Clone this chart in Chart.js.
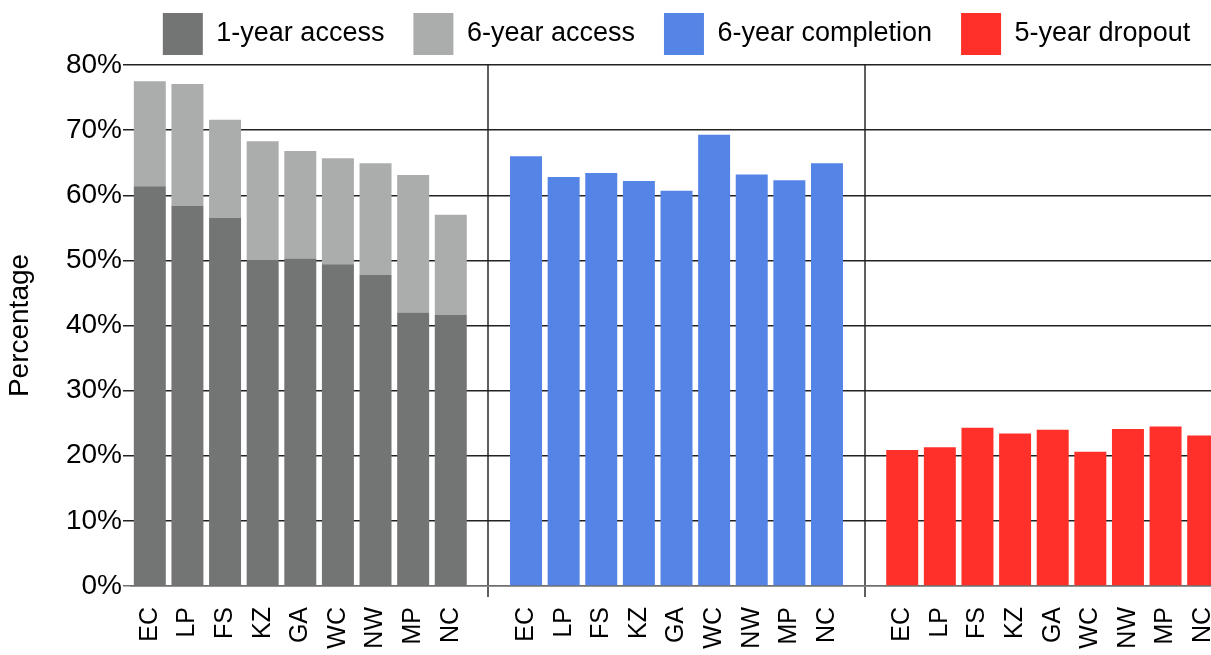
<!DOCTYPE html>
<html>
<head>
<meta charset="utf-8">
<script src="https://cdn.jsdelivr.net/npm/chart.js@4/dist/chart.umd.min.js"></script>
<style>
  html, body { margin: 0; padding: 0; background: #fff; }
  #wrap { width: 1211px; height: 655px; overflow: hidden; position: relative; }
  #chart { position: absolute; left: 0; top: 0; }
</style>
</head>
<body>
<div id="wrap"><canvas id="chart" width="1222" height="655"></canvas></div>
<script>
// regions, repeated once per panel
const regions = ['EC', 'LP', 'FS', 'KZ', 'GA', 'WC', 'NW', 'MP', 'NC']

// percentages
const oneYearAccess = [61.4, 58.4, 56.5, 50.1, 50.3, 49.4, 47.8, 42.0, 41.6]
const sixYearAccess = [77.5, 77.1, 71.6, 68.3, 66.8, 65.7, 64.9, 63.1, 57.0]
const sixYearCompletion = [66.0, 62.8, 63.4, 62.2, 60.7, 69.3, 63.2, 62.3, 64.9]
const fiveYearDropout = [20.9, 21.3, 24.3, 23.4, 24.0, 20.6, 24.1, 24.5, 23.1]

const yTicks = [0, 10, 20, 30, 40, 50, 60, 70, 80]

// three panels with one empty slot between them (where the divider sits)
const labels = [...regions, '', ...regions, '', ...regions]
const dividers = [regions.length, regions.length * 2 + 1]

const place = (vals, start) =>
  labels.map((_, i) => (i >= start && i < start + vals.length ? vals[i - start] : null))

const FONT = "'Liberation Sans', Arial, sans-serif"
Chart.defaults.font.family = FONT
Chart.defaults.color = '#000'

const data = {
  labels: labels,
  datasets: [
    {
      label: '1-year access',
      data: place(oneYearAccess, 0),
      backgroundColor: '#737574'
    },
    {
      // stacked on top of 1-year access, so only the extra part is drawn
      label: '6-year access',
      data: place(sixYearAccess.map((v, i) => v - oneYearAccess[i]), 0),
      backgroundColor: '#abadac'
    },
    {
      label: '6-year completion',
      data: place(sixYearCompletion, regions.length + 1),
      backgroundColor: '#5584e7'
    },
    {
      label: '5-year dropout',
      data: place(fiveYearDropout, regions.length * 2 + 2),
      backgroundColor: '#ff302a'
    }
  ]
}

const config = {
  type: 'bar',
  data: data,
  options: {
    responsive: false,
    animation: false,
    devicePixelRatio: 1,
    layout: { padding: { top: -16, left: 0, right: 0, bottom: 0 } },
    datasets: {
      bar: { barPercentage: 0.85, categoryPercentage: 1, borderWidth: 0 }
    },
    plugins: {
      tooltip: { enabled: false },
      legend: {
        position: 'top',
        fullSize: false,
        labels: {
          boxWidth: 40,
          boxHeight: 42,
          padding: 29,
          font: { size: 27 },
          color: '#000'
        }
      }
    },
    scales: {
      x: {
        stacked: true,
        afterFit: (scale) => {
          scale.height = 69
          // the last panel runs off the right edge, as in the original
          scale.paddingLeft = 0
          scale.paddingRight = 0
        },
        border: { display: true, color: '#707070', width: 1.5 },
        grid: {
          offset: false,
          drawOnChartArea: true,
          tickLength: 11,
          lineWidth: 2,
          color: (ctx) => (dividers.includes(ctx.index) ? '#5f5f5f' : 'rgba(0,0,0,0)')
        },
        ticks: {
          autoSkip: false,
          maxRotation: 90,
          minRotation: 90,
          padding: 10,
          font: { size: 25 },
          color: '#000'
        }
      },
      y: {
        stacked: true,
        min: 0,
        max: 80,
        afterFit: (scale) => { scale.width = 131 },
        afterBuildTicks: (scale) => { scale.ticks = yTicks.map((v) => ({ value: v })) },
        border: { display: false },
        grid: {
          tickLength: 8,
          lineWidth: 1.5,
          color: (ctx) => (ctx.index === 0 ? '#707070' : '#222222')
        },
        ticks: {
          padding: 1,
          font: { size: 28 },
          color: '#000',
          callback: (v) => v + '%'
        },
        title: {
          display: true,
          text: 'Percentage',
          font: { size: 28 },
          color: '#000',
          padding: { top: 3, bottom: 0 }
        }
      }
    }
  }
}

new Chart(document.getElementById('chart'), config)
</script>
</body>
</html>
